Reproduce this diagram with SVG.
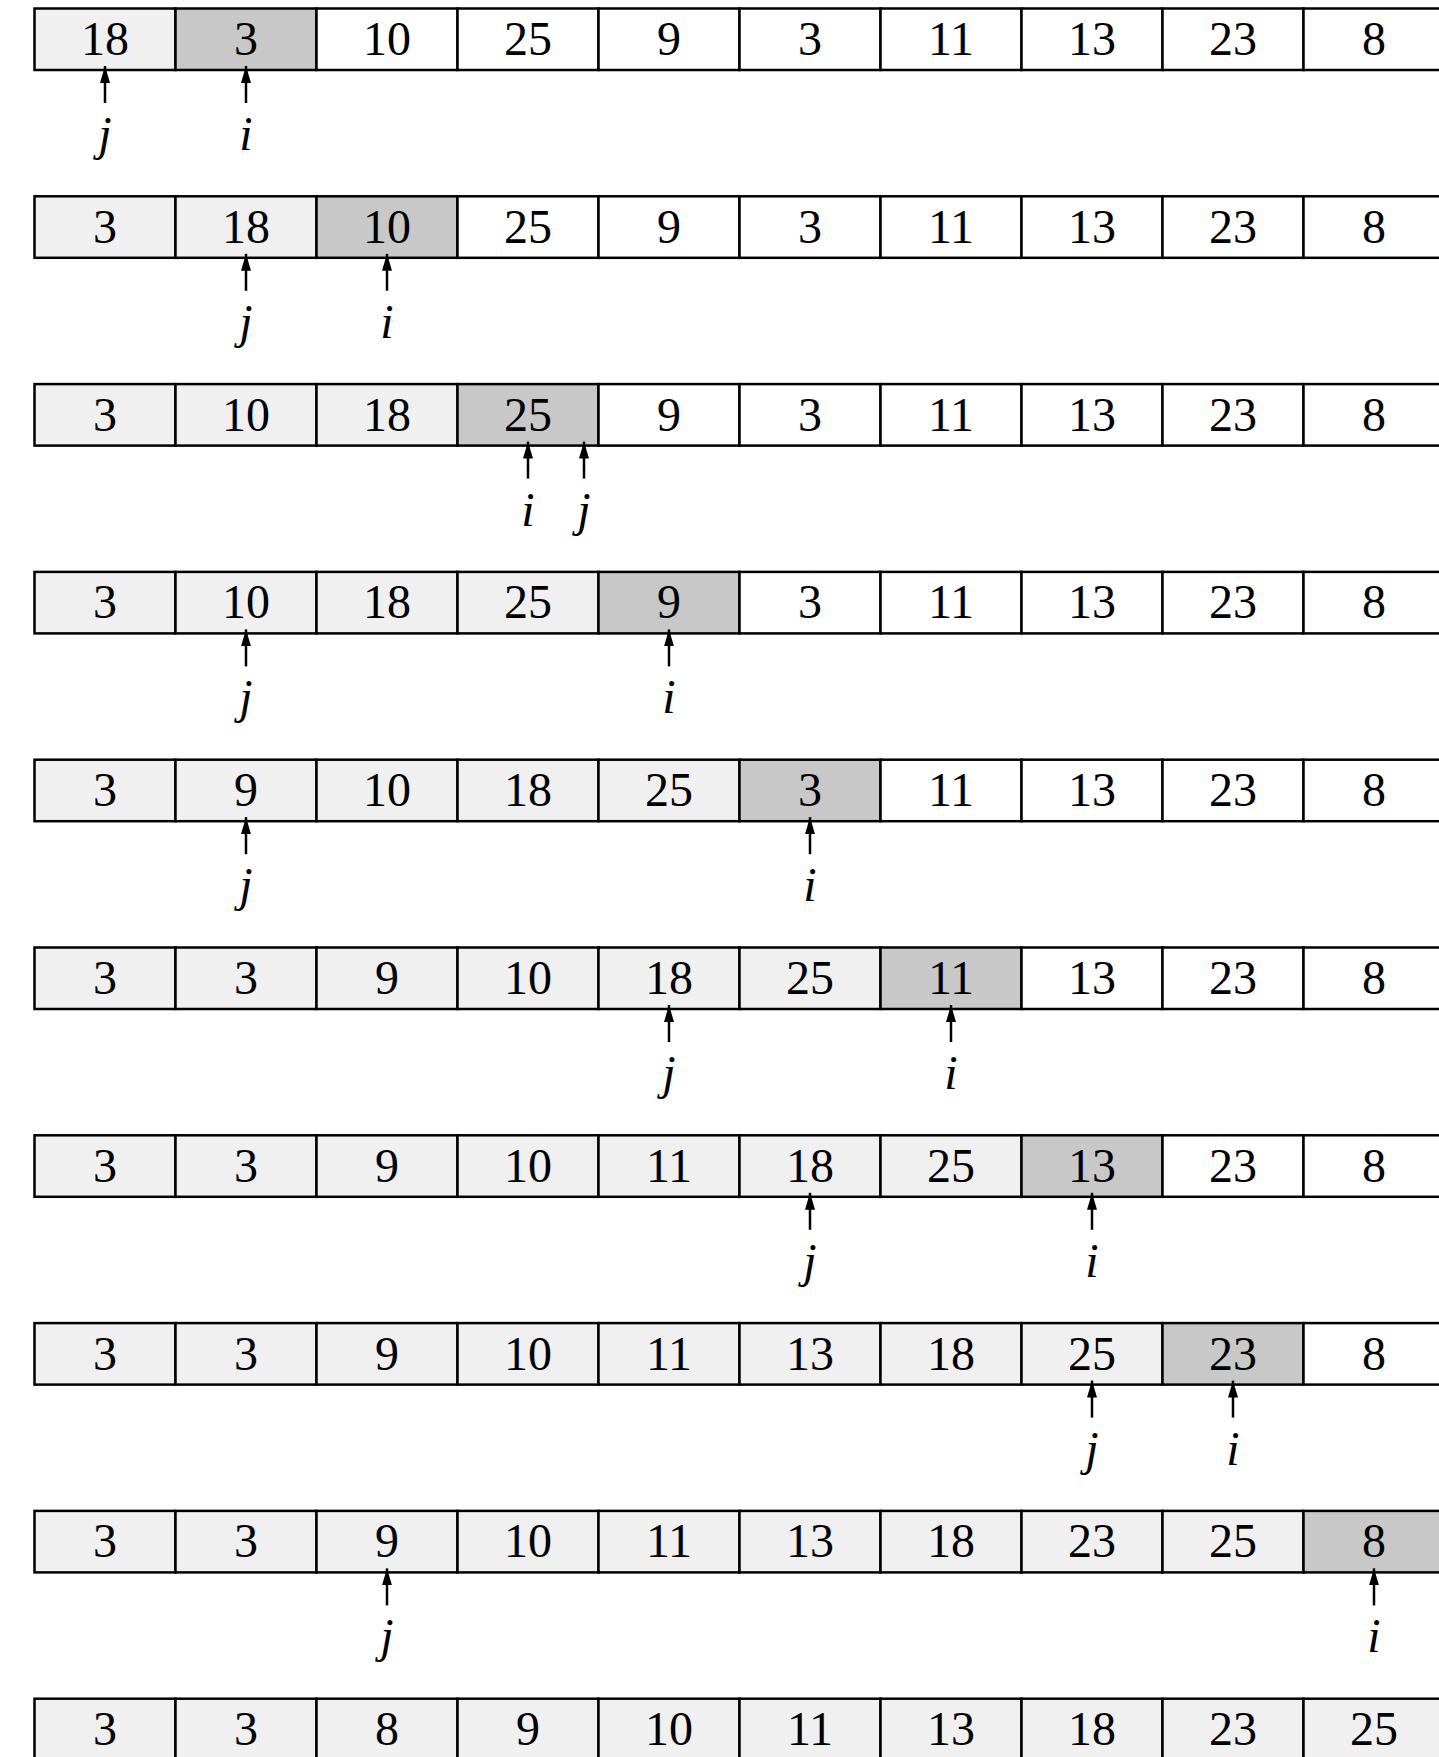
<svg xmlns="http://www.w3.org/2000/svg" width="1439" height="1757" viewBox="0 0 1439 1757">
<style>
rect{fill:#ffffff;stroke:#000;stroke-width:2.5}
rect.l{fill:#f0f0f0}
rect.d{fill:#c8c8c8}
text{font-family:"Liberation Serif","DejaVu Serif",serif;font-size:48px;text-anchor:middle;fill:#000}
text.v{font-style:italic}
line.a{stroke:#000;stroke-width:2.5;marker-end:url(#ah)}
</style>
<defs>
<marker id="ah" viewBox="0 0 17 10" refX="17" refY="5" markerWidth="17" markerHeight="10" markerUnits="userSpaceOnUse" orient="auto"><path d="M0,0 L17,5 L0,10 z" fill="#000"/></marker>
</defs>
<g id="row0" transform="translate(0,8.5)">
<g id="r0c0"><rect class="l" x="34.5" y="0" width="141" height="61.5"/><text x="105" y="46.5">18</text></g>
<g id="r0c1"><rect class="d" x="175.5" y="0" width="141" height="61.5"/><text x="246" y="46.5">3</text></g>
<g id="r0c2"><rect x="316.5" y="0" width="141" height="61.5"/><text x="387" y="46.5">10</text></g>
<g id="r0c3"><rect x="457.5" y="0" width="141" height="61.5"/><text x="528" y="46.5">25</text></g>
<g id="r0c4"><rect x="598.5" y="0" width="141" height="61.5"/><text x="669" y="46.5">9</text></g>
<g id="r0c5"><rect x="739.5" y="0" width="141" height="61.5"/><text x="810" y="46.5">3</text></g>
<g id="r0c6"><rect x="880.5" y="0" width="141" height="61.5"/><text x="951" y="46.5">11</text></g>
<g id="r0c7"><rect x="1021.5" y="0" width="141" height="61.5"/><text x="1092" y="46.5">13</text></g>
<g id="r0c8"><rect x="1162.5" y="0" width="141" height="61.5"/><text x="1233" y="46.5">23</text></g>
<g id="r0c9"><rect x="1303.5" y="0" width="141" height="61.5"/><text x="1374" y="46.5">8</text></g>
</g>
<g id="row1" transform="translate(0,196.3)">
<g id="r1c0"><rect class="l" x="34.5" y="0" width="141" height="61.5"/><text x="105" y="46.5">3</text></g>
<g id="r1c1"><rect class="l" x="175.5" y="0" width="141" height="61.5"/><text x="246" y="46.5">18</text></g>
<g id="r1c2"><rect class="d" x="316.5" y="0" width="141" height="61.5"/><text x="387" y="46.5">10</text></g>
<g id="r1c3"><rect x="457.5" y="0" width="141" height="61.5"/><text x="528" y="46.5">25</text></g>
<g id="r1c4"><rect x="598.5" y="0" width="141" height="61.5"/><text x="669" y="46.5">9</text></g>
<g id="r1c5"><rect x="739.5" y="0" width="141" height="61.5"/><text x="810" y="46.5">3</text></g>
<g id="r1c6"><rect x="880.5" y="0" width="141" height="61.5"/><text x="951" y="46.5">11</text></g>
<g id="r1c7"><rect x="1021.5" y="0" width="141" height="61.5"/><text x="1092" y="46.5">13</text></g>
<g id="r1c8"><rect x="1162.5" y="0" width="141" height="61.5"/><text x="1233" y="46.5">23</text></g>
<g id="r1c9"><rect x="1303.5" y="0" width="141" height="61.5"/><text x="1374" y="46.5">8</text></g>
</g>
<g id="row2" transform="translate(0,384.1)">
<g id="r2c0"><rect class="l" x="34.5" y="0" width="141" height="61.5"/><text x="105" y="46.5">3</text></g>
<g id="r2c1"><rect class="l" x="175.5" y="0" width="141" height="61.5"/><text x="246" y="46.5">10</text></g>
<g id="r2c2"><rect class="l" x="316.5" y="0" width="141" height="61.5"/><text x="387" y="46.5">18</text></g>
<g id="r2c3"><rect class="d" x="457.5" y="0" width="141" height="61.5"/><text x="528" y="46.5">25</text></g>
<g id="r2c4"><rect x="598.5" y="0" width="141" height="61.5"/><text x="669" y="46.5">9</text></g>
<g id="r2c5"><rect x="739.5" y="0" width="141" height="61.5"/><text x="810" y="46.5">3</text></g>
<g id="r2c6"><rect x="880.5" y="0" width="141" height="61.5"/><text x="951" y="46.5">11</text></g>
<g id="r2c7"><rect x="1021.5" y="0" width="141" height="61.5"/><text x="1092" y="46.5">13</text></g>
<g id="r2c8"><rect x="1162.5" y="0" width="141" height="61.5"/><text x="1233" y="46.5">23</text></g>
<g id="r2c9"><rect x="1303.5" y="0" width="141" height="61.5"/><text x="1374" y="46.5">8</text></g>
</g>
<g id="row3" transform="translate(0,571.9)">
<g id="r3c0"><rect class="l" x="34.5" y="0" width="141" height="61.5"/><text x="105" y="46.5">3</text></g>
<g id="r3c1"><rect class="l" x="175.5" y="0" width="141" height="61.5"/><text x="246" y="46.5">10</text></g>
<g id="r3c2"><rect class="l" x="316.5" y="0" width="141" height="61.5"/><text x="387" y="46.5">18</text></g>
<g id="r3c3"><rect class="l" x="457.5" y="0" width="141" height="61.5"/><text x="528" y="46.5">25</text></g>
<g id="r3c4"><rect class="d" x="598.5" y="0" width="141" height="61.5"/><text x="669" y="46.5">9</text></g>
<g id="r3c5"><rect x="739.5" y="0" width="141" height="61.5"/><text x="810" y="46.5">3</text></g>
<g id="r3c6"><rect x="880.5" y="0" width="141" height="61.5"/><text x="951" y="46.5">11</text></g>
<g id="r3c7"><rect x="1021.5" y="0" width="141" height="61.5"/><text x="1092" y="46.5">13</text></g>
<g id="r3c8"><rect x="1162.5" y="0" width="141" height="61.5"/><text x="1233" y="46.5">23</text></g>
<g id="r3c9"><rect x="1303.5" y="0" width="141" height="61.5"/><text x="1374" y="46.5">8</text></g>
</g>
<g id="row4" transform="translate(0,759.7)">
<g id="r4c0"><rect class="l" x="34.5" y="0" width="141" height="61.5"/><text x="105" y="46.5">3</text></g>
<g id="r4c1"><rect class="l" x="175.5" y="0" width="141" height="61.5"/><text x="246" y="46.5">9</text></g>
<g id="r4c2"><rect class="l" x="316.5" y="0" width="141" height="61.5"/><text x="387" y="46.5">10</text></g>
<g id="r4c3"><rect class="l" x="457.5" y="0" width="141" height="61.5"/><text x="528" y="46.5">18</text></g>
<g id="r4c4"><rect class="l" x="598.5" y="0" width="141" height="61.5"/><text x="669" y="46.5">25</text></g>
<g id="r4c5"><rect class="d" x="739.5" y="0" width="141" height="61.5"/><text x="810" y="46.5">3</text></g>
<g id="r4c6"><rect x="880.5" y="0" width="141" height="61.5"/><text x="951" y="46.5">11</text></g>
<g id="r4c7"><rect x="1021.5" y="0" width="141" height="61.5"/><text x="1092" y="46.5">13</text></g>
<g id="r4c8"><rect x="1162.5" y="0" width="141" height="61.5"/><text x="1233" y="46.5">23</text></g>
<g id="r4c9"><rect x="1303.5" y="0" width="141" height="61.5"/><text x="1374" y="46.5">8</text></g>
</g>
<g id="row5" transform="translate(0,947.5)">
<g id="r5c0"><rect class="l" x="34.5" y="0" width="141" height="61.5"/><text x="105" y="46.5">3</text></g>
<g id="r5c1"><rect class="l" x="175.5" y="0" width="141" height="61.5"/><text x="246" y="46.5">3</text></g>
<g id="r5c2"><rect class="l" x="316.5" y="0" width="141" height="61.5"/><text x="387" y="46.5">9</text></g>
<g id="r5c3"><rect class="l" x="457.5" y="0" width="141" height="61.5"/><text x="528" y="46.5">10</text></g>
<g id="r5c4"><rect class="l" x="598.5" y="0" width="141" height="61.5"/><text x="669" y="46.5">18</text></g>
<g id="r5c5"><rect class="l" x="739.5" y="0" width="141" height="61.5"/><text x="810" y="46.5">25</text></g>
<g id="r5c6"><rect class="d" x="880.5" y="0" width="141" height="61.5"/><text x="951" y="46.5">11</text></g>
<g id="r5c7"><rect x="1021.5" y="0" width="141" height="61.5"/><text x="1092" y="46.5">13</text></g>
<g id="r5c8"><rect x="1162.5" y="0" width="141" height="61.5"/><text x="1233" y="46.5">23</text></g>
<g id="r5c9"><rect x="1303.5" y="0" width="141" height="61.5"/><text x="1374" y="46.5">8</text></g>
</g>
<g id="row6" transform="translate(0,1135.3)">
<g id="r6c0"><rect class="l" x="34.5" y="0" width="141" height="61.5"/><text x="105" y="46.5">3</text></g>
<g id="r6c1"><rect class="l" x="175.5" y="0" width="141" height="61.5"/><text x="246" y="46.5">3</text></g>
<g id="r6c2"><rect class="l" x="316.5" y="0" width="141" height="61.5"/><text x="387" y="46.5">9</text></g>
<g id="r6c3"><rect class="l" x="457.5" y="0" width="141" height="61.5"/><text x="528" y="46.5">10</text></g>
<g id="r6c4"><rect class="l" x="598.5" y="0" width="141" height="61.5"/><text x="669" y="46.5">11</text></g>
<g id="r6c5"><rect class="l" x="739.5" y="0" width="141" height="61.5"/><text x="810" y="46.5">18</text></g>
<g id="r6c6"><rect class="l" x="880.5" y="0" width="141" height="61.5"/><text x="951" y="46.5">25</text></g>
<g id="r6c7"><rect class="d" x="1021.5" y="0" width="141" height="61.5"/><text x="1092" y="46.5">13</text></g>
<g id="r6c8"><rect x="1162.5" y="0" width="141" height="61.5"/><text x="1233" y="46.5">23</text></g>
<g id="r6c9"><rect x="1303.5" y="0" width="141" height="61.5"/><text x="1374" y="46.5">8</text></g>
</g>
<g id="row7" transform="translate(0,1323.1)">
<g id="r7c0"><rect class="l" x="34.5" y="0" width="141" height="61.5"/><text x="105" y="46.5">3</text></g>
<g id="r7c1"><rect class="l" x="175.5" y="0" width="141" height="61.5"/><text x="246" y="46.5">3</text></g>
<g id="r7c2"><rect class="l" x="316.5" y="0" width="141" height="61.5"/><text x="387" y="46.5">9</text></g>
<g id="r7c3"><rect class="l" x="457.5" y="0" width="141" height="61.5"/><text x="528" y="46.5">10</text></g>
<g id="r7c4"><rect class="l" x="598.5" y="0" width="141" height="61.5"/><text x="669" y="46.5">11</text></g>
<g id="r7c5"><rect class="l" x="739.5" y="0" width="141" height="61.5"/><text x="810" y="46.5">13</text></g>
<g id="r7c6"><rect class="l" x="880.5" y="0" width="141" height="61.5"/><text x="951" y="46.5">18</text></g>
<g id="r7c7"><rect class="l" x="1021.5" y="0" width="141" height="61.5"/><text x="1092" y="46.5">25</text></g>
<g id="r7c8"><rect class="d" x="1162.5" y="0" width="141" height="61.5"/><text x="1233" y="46.5">23</text></g>
<g id="r7c9"><rect x="1303.5" y="0" width="141" height="61.5"/><text x="1374" y="46.5">8</text></g>
</g>
<g id="row8" transform="translate(0,1510.9)">
<g id="r8c0"><rect class="l" x="34.5" y="0" width="141" height="61.5"/><text x="105" y="46.5">3</text></g>
<g id="r8c1"><rect class="l" x="175.5" y="0" width="141" height="61.5"/><text x="246" y="46.5">3</text></g>
<g id="r8c2"><rect class="l" x="316.5" y="0" width="141" height="61.5"/><text x="387" y="46.5">9</text></g>
<g id="r8c3"><rect class="l" x="457.5" y="0" width="141" height="61.5"/><text x="528" y="46.5">10</text></g>
<g id="r8c4"><rect class="l" x="598.5" y="0" width="141" height="61.5"/><text x="669" y="46.5">11</text></g>
<g id="r8c5"><rect class="l" x="739.5" y="0" width="141" height="61.5"/><text x="810" y="46.5">13</text></g>
<g id="r8c6"><rect class="l" x="880.5" y="0" width="141" height="61.5"/><text x="951" y="46.5">18</text></g>
<g id="r8c7"><rect class="l" x="1021.5" y="0" width="141" height="61.5"/><text x="1092" y="46.5">23</text></g>
<g id="r8c8"><rect class="l" x="1162.5" y="0" width="141" height="61.5"/><text x="1233" y="46.5">25</text></g>
<g id="r8c9"><rect class="d" x="1303.5" y="0" width="141" height="61.5"/><text x="1374" y="46.5">8</text></g>
</g>
<g id="row9" transform="translate(0,1698.7)">
<g id="r9c0"><rect class="l" x="34.5" y="0" width="141" height="61.5"/><text x="105" y="46.5">3</text></g>
<g id="r9c1"><rect class="l" x="175.5" y="0" width="141" height="61.5"/><text x="246" y="46.5">3</text></g>
<g id="r9c2"><rect class="l" x="316.5" y="0" width="141" height="61.5"/><text x="387" y="46.5">8</text></g>
<g id="r9c3"><rect class="l" x="457.5" y="0" width="141" height="61.5"/><text x="528" y="46.5">9</text></g>
<g id="r9c4"><rect class="l" x="598.5" y="0" width="141" height="61.5"/><text x="669" y="46.5">10</text></g>
<g id="r9c5"><rect class="l" x="739.5" y="0" width="141" height="61.5"/><text x="810" y="46.5">11</text></g>
<g id="r9c6"><rect class="l" x="880.5" y="0" width="141" height="61.5"/><text x="951" y="46.5">13</text></g>
<g id="r9c7"><rect class="l" x="1021.5" y="0" width="141" height="61.5"/><text x="1092" y="46.5">18</text></g>
<g id="r9c8"><rect class="l" x="1162.5" y="0" width="141" height="61.5"/><text x="1233" y="46.5">23</text></g>
<g id="r9c9"><rect class="l" x="1303.5" y="0" width="141" height="61.5"/><text x="1374" y="46.5">25</text></g>
</g>
<g id="connectors">
<g transform="translate(0,8.5)">
<line class="a" x1="105" y1="94.5" x2="105" y2="57.5"/><text class="v" x="105" y="141.5">j</text>
<line class="a" x1="246" y1="94.5" x2="246" y2="57.5"/><text class="v" x="246" y="141.5">i</text>
</g>
<g transform="translate(0,196.3)">
<line class="a" x1="246" y1="94.5" x2="246" y2="57.5"/><text class="v" x="246" y="141.5">j</text>
<line class="a" x1="387" y1="94.5" x2="387" y2="57.5"/><text class="v" x="387" y="141.5">i</text>
</g>
<g transform="translate(0,384.1)">
<line class="a" x1="528" y1="94.5" x2="528" y2="57.5"/><text class="v" x="528" y="141.5">i</text>
<line class="a" x1="584" y1="94.5" x2="584" y2="57.5"/><text class="v" x="584" y="141.5">j</text>
</g>
<g transform="translate(0,571.9)">
<line class="a" x1="246" y1="94.5" x2="246" y2="57.5"/><text class="v" x="246" y="141.5">j</text>
<line class="a" x1="669" y1="94.5" x2="669" y2="57.5"/><text class="v" x="669" y="141.5">i</text>
</g>
<g transform="translate(0,759.7)">
<line class="a" x1="246" y1="94.5" x2="246" y2="57.5"/><text class="v" x="246" y="141.5">j</text>
<line class="a" x1="810" y1="94.5" x2="810" y2="57.5"/><text class="v" x="810" y="141.5">i</text>
</g>
<g transform="translate(0,947.5)">
<line class="a" x1="669" y1="94.5" x2="669" y2="57.5"/><text class="v" x="669" y="141.5">j</text>
<line class="a" x1="951" y1="94.5" x2="951" y2="57.5"/><text class="v" x="951" y="141.5">i</text>
</g>
<g transform="translate(0,1135.3)">
<line class="a" x1="810" y1="94.5" x2="810" y2="57.5"/><text class="v" x="810" y="141.5">j</text>
<line class="a" x1="1092" y1="94.5" x2="1092" y2="57.5"/><text class="v" x="1092" y="141.5">i</text>
</g>
<g transform="translate(0,1323.1)">
<line class="a" x1="1092" y1="94.5" x2="1092" y2="57.5"/><text class="v" x="1092" y="141.5">j</text>
<line class="a" x1="1233" y1="94.5" x2="1233" y2="57.5"/><text class="v" x="1233" y="141.5">i</text>
</g>
<g transform="translate(0,1510.9)">
<line class="a" x1="387" y1="94.5" x2="387" y2="57.5"/><text class="v" x="387" y="141.5">j</text>
<line class="a" x1="1374" y1="94.5" x2="1374" y2="57.5"/><text class="v" x="1374" y="141.5">i</text>
</g>
</g>
</svg>
